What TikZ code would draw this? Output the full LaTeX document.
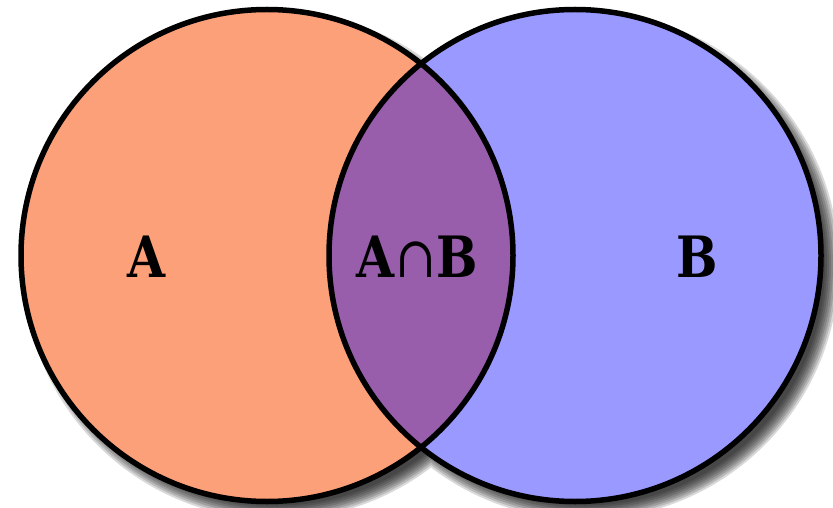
\documentclass[tikz,border=0pt]{standalone}
\usepackage{fontspec}
\setmainfont{DejaVu Serif}
\usepackage{tikz}
\usetikzlibrary{positioning}
\definecolor{setA}{RGB}{252,160,122}
\definecolor{setB}{RGB}{153,153,255}
\definecolor{setAB}{RGB}{152,94,172}
\tikzset{setlabel/.style={font=\fontsize{57}{60}\selectfont,xscale=0.86,anchor=base,inner sep=0pt}}

\begin{document}
\begin{tikzpicture}[x=1pt,y=-1pt]
\useasboundingbox (0,0) rectangle (833,508);

\coordinate (cA) at (267,255.5);
\coordinate (cB) at (575,255.5);

%shadow
\foreach \k in {0,...,7}
\fill[black,opacity=0.15] ([shift={(10,10)}]cA) circle [radius=254-2*\k]
                          ([shift={(10,10)}]cB) circle [radius=254-2*\k];

%sets
\fill[setA] (cA) circle [radius=246];
\fill[setB] (cB) circle [radius=246];
\begin{scope}
\clip (cA) circle [radius=246];
\fill[setAB] (cB) circle [radius=246];
\end{scope}
\draw[line width=5.5pt] (cA) circle [radius=246];
\draw[line width=5.5pt] (cB) circle [radius=246];

%labels
\node[setlabel] (nodeA) at (147,277) {\textbf{A}};
\node[setlabel] (nodeAB) at (417,277) {\textbf{A}∩\textbf{B}};
\node[setlabel] (nodeB) at (697,277) {\textbf{B}};

\end{tikzpicture}
\end{document}
